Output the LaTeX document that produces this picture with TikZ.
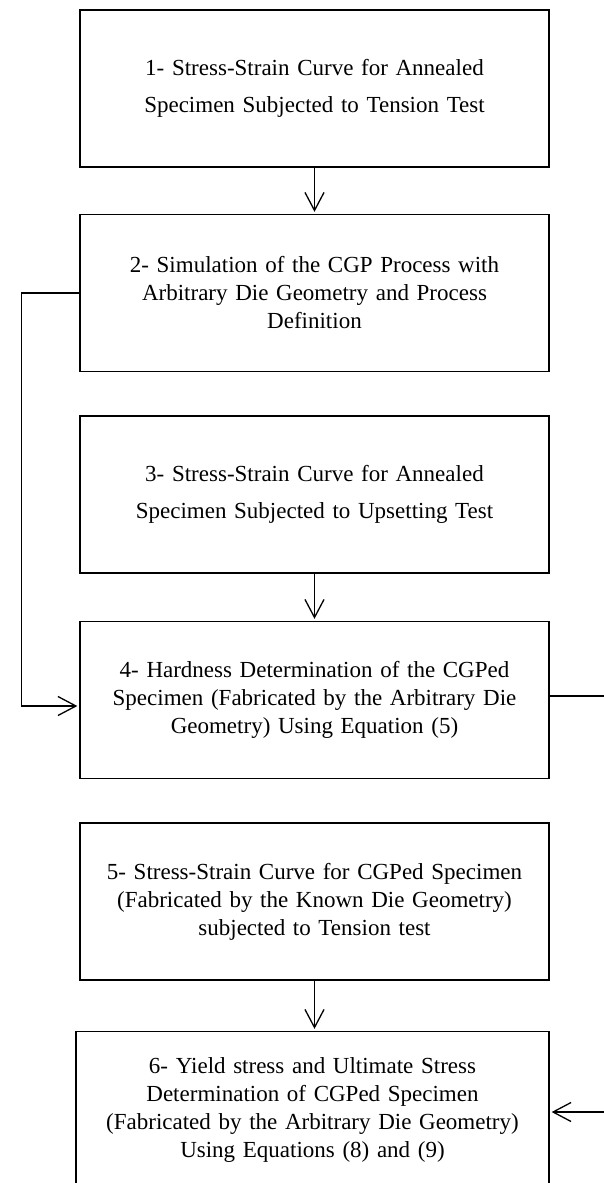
\documentclass[tikz,border=0pt]{standalone}
\usepackage{fontspec}
\setmainfont{Liberation Serif}
\usetikzlibrary{arrows.meta}

\begin{document}
\begin{tikzpicture}[
  x=1pt, y=-1pt,
  stepbox/.style={draw=black, line width=1.3pt, minimum width=469pt, minimum height=157pt,
                  text width=450pt, align=center, inner sep=0pt,
                  font={\fontsize{23}{28}\selectfont}},
  widebox/.style={stepbox, font={\fontsize{23}{36.5}\selectfont}},
  flow/.style={-{Straight Barb[length=18pt,width=19pt]}, line width=1.3pt, shorten >=2pt}
]
\useasboundingbox (0,0) rectangle (603,1183);

% ---- the six steps, top to bottom
\node[widebox] (s1) at (314.5,88.5)
  {1- Stress-Strain Curve for Annealed\\Specimen Subjected to Tension Test};
\node[stepbox] (s2) at (314.5,293)
  {2- Simulation of the CGP Process with\\Arbitrary Die Geometry and Process\\Definition};
\node[widebox] (s3) at (314.5,494.5)
  {3- Stress-Strain Curve for Annealed\\Specimen Subjected to Upsetting Test};
\node[stepbox] (s4) at (314.5,700)
  {4- Hardness Determination of the CGPed\\Specimen (Fabricated by the Arbitrary Die\\Geometry) Using Equation (5)};
\node[stepbox] (s5) at (314.5,901.5)
  {5- Stress-Strain Curve for CGPed Specimen\\(Fabricated by the Known Die Geometry)\\subjected to Tension test};
\node[stepbox, minimum width=473pt] (s6) at (312.5,1110)
  {6- Yield stress and Ultimate Stress\\Determination of CGPed Specimen\\(Fabricated by the Arbitrary Die Geometry)\\Using Equations (8) and (9)};

% ---- straight arrows
\draw[flow] (s1.south) -- (s2.north);
\draw[flow] (s3.south) -- (s4.north);
\draw[flow] (s5.south) -- (s5.south |- s6.north);

% ---- side loops
\draw[flow] (s2.west) -- ++(-58,0) |- ([yshift=-6pt]s4.west);
\draw[flow] ([yshift=4pt]s4.east) -- ++(60,0) |- ([yshift=-2pt]s6.east);
\end{tikzpicture}
\end{document}
